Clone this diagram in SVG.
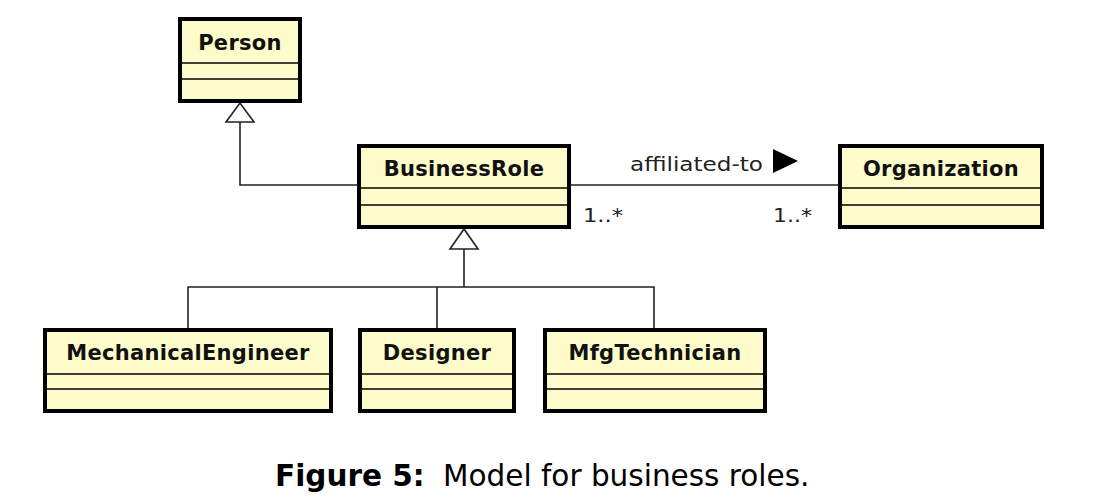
<svg xmlns="http://www.w3.org/2000/svg" width="1093" height="503" viewBox="0 0 1093 503">
<style>
.box{fill:#FEFCCB;stroke:#000;stroke-width:4}
.div{stroke:#000;stroke-width:1.5}
.name{font-family:"DejaVu Sans",Verdana,sans-serif;font-weight:bold;font-size:21px;letter-spacing:0.3px;fill:#111;text-anchor:middle}
.lbl{font-family:"DejaVu Sans",Verdana,sans-serif;font-size:20px;fill:#222}
.conn{fill:none;stroke:#222;stroke-width:1.6}
.gen{fill:#fff;stroke:#222;stroke-width:1.6}
.cap{font-family:"DejaVu Sans",Verdana,sans-serif;font-size:29.5px;fill:#000}
</style>
<rect width="1093" height="503" fill="#fff"/>
<g id="connectors">
<polyline class="conn" points="240,122 240,185 357,185"/>
<polygon class="gen" points="240,103 226,122 254,122"/>
<line class="conn" x1="571" y1="185" x2="838" y2="185"/>
<polyline class="conn" points="464,249 464,287"/>
<polyline class="conn" points="188,328 188,287 654,287 654,328"/>
<line class="conn" x1="437" y1="287" x2="437" y2="328"/>
<polygon class="gen" points="464,229 450,249 478,249"/>
<text class="lbl" x="630" y="171" textLength="133" lengthAdjust="spacingAndGlyphs">affiliated-to</text>
<polygon points="773,149 798,161 773,173" fill="#000"/>
<text class="lbl" x="583" y="222" textLength="40" lengthAdjust="spacingAndGlyphs">1..*</text>
<text class="lbl" x="773" y="222" textLength="39" lengthAdjust="spacingAndGlyphs">1..*</text>
</g>
<g id="Person">
<rect class="box" x="180" y="19" width="120" height="82"/>
<line class="div" x1="180" y1="63" x2="300" y2="63"/>
<line class="div" x1="180" y1="79" x2="300" y2="79"/>
<text class="name" x="240" y="50">Person</text>
</g>
<g id="BusinessRole">
<rect class="box" x="359" y="146" width="210" height="81"/>
<line class="div" x1="359" y1="188" x2="569" y2="188"/>
<line class="div" x1="359" y1="205" x2="569" y2="205"/>
<text class="name" x="464" y="176">BusinessRole</text>
</g>
<g id="Organization">
<rect class="box" x="840" y="146" width="202" height="81"/>
<line class="div" x1="840" y1="188" x2="1042" y2="188"/>
<line class="div" x1="840" y1="205" x2="1042" y2="205"/>
<text class="name" x="941" y="176">Organization</text>
</g>
<g id="MechanicalEngineer">
<rect class="box" x="45" y="330" width="286" height="81"/>
<line class="div" x1="45" y1="374" x2="331" y2="374"/>
<line class="div" x1="45" y1="389" x2="331" y2="389"/>
<text class="name" x="188" y="360">MechanicalEngineer</text>
</g>
<g id="Designer">
<rect class="box" x="360" y="330" width="154" height="81"/>
<line class="div" x1="360" y1="374" x2="514" y2="374"/>
<line class="div" x1="360" y1="389" x2="514" y2="389"/>
<text class="name" x="437" y="360">Designer</text>
</g>
<g id="MfgTechnician">
<rect class="box" x="545" y="330" width="220" height="81"/>
<line class="div" x1="545" y1="374" x2="765" y2="374"/>
<line class="div" x1="545" y1="389" x2="765" y2="389"/>
<text class="name" x="655" y="360">MfgTechnician</text>
</g>
<g id="caption">
<text class="cap" x="275" y="486"><tspan font-weight="bold">Figure 5:</tspan><tspan x="443">Model for business roles.</tspan></text>
</g>
</svg>
